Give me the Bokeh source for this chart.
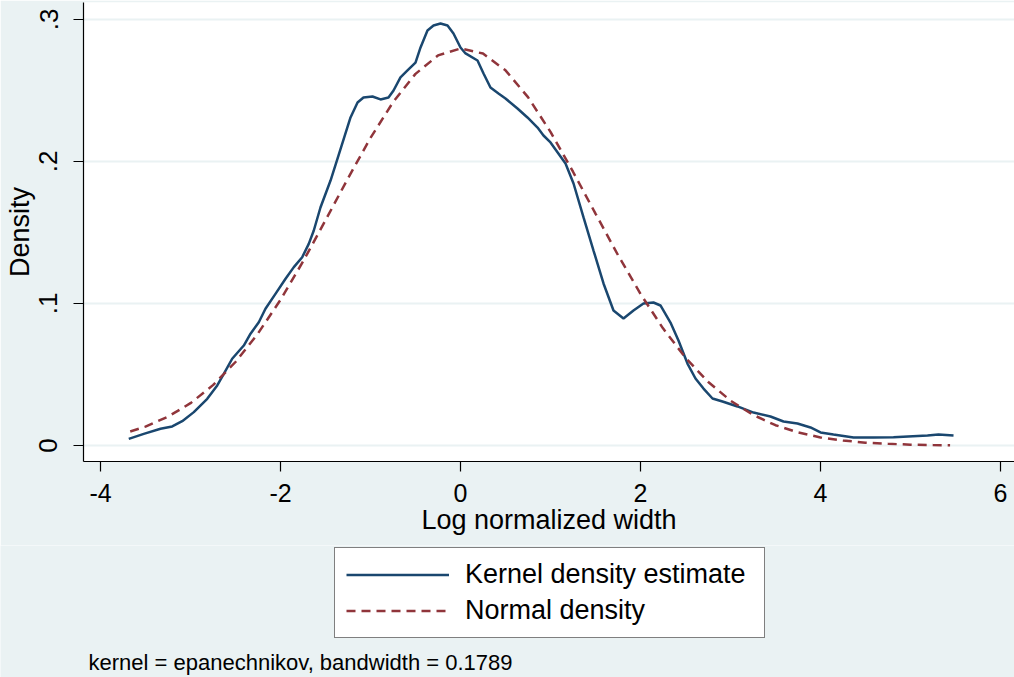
from bokeh.plotting import figure
from bokeh.models import Range1d, FixedTicker, Legend, LegendItem
from bokeh.layouts import column
from bokeh.core.properties import value
from bokeh.embed import file_html
from bokeh.resources import INLINE

# Kernel density estimate
kde_x = [-3.686, -3.519, -3.333, -3.203, -3.092, -2.963, -2.814, -2.703, -2.630, -2.537,
         -2.408, -2.333, -2.241, -2.167, -2.056, -1.944, -1.852, -1.759, -1.686, -1.630,
         -1.556, -1.444, -1.356, -1.222, -1.144, -1.078, -0.978, -0.889, -0.800, -0.744,
         -0.667, -0.589, -0.500, -0.444, -0.367, -0.300, -0.222, -0.144, -0.078, 0.000,
         0.056, 0.189, 0.256, 0.333, 0.422, 0.500, 0.633, 0.744, 0.856, 0.922,
         1.000, 1.167, 1.256, 1.367, 1.478, 1.589, 1.700, 1.811, 1.922, 2.033,
         2.144, 2.222, 2.333, 2.422, 2.522, 2.611, 2.700, 2.800, 2.911, 3.078,
         3.256, 3.444, 3.589, 3.744, 3.889, 4.000, 4.144, 4.367, 4.589, 4.811,
         5.189, 5.311, 5.478]
kde_y = [0.0047, 0.0082, 0.0118, 0.0134, 0.0171, 0.0235, 0.0329, 0.0423, 0.0505, 0.0611,
         0.0704, 0.0787, 0.0868, 0.0963, 0.1068, 0.1174, 0.1256, 0.1326, 0.1420, 0.1514,
         0.1676, 0.1866, 0.2042, 0.2310, 0.2415, 0.2451, 0.2458, 0.2437, 0.2451, 0.2500,
         0.2592, 0.2641, 0.2697, 0.2803, 0.2923, 0.2958, 0.2972, 0.2958, 0.2901, 0.2803,
         0.2761, 0.2711, 0.2620, 0.2521, 0.2479, 0.2444, 0.2373, 0.2310, 0.2239, 0.2183,
         0.2134, 0.1986, 0.1845, 0.1606, 0.1373, 0.1141, 0.0951, 0.0894, 0.0951, 0.1000,
         0.1007, 0.0986, 0.0866, 0.0739, 0.0577, 0.0472, 0.0401, 0.0331, 0.0310, 0.0275,
         0.0232, 0.0204, 0.0169, 0.0155, 0.0127, 0.0092, 0.0077, 0.0056, 0.0056, 0.0058,
         0.0070, 0.0077, 0.0070]

# Normal density
norm_x = [-3.67, -3.5, -3.25, -3.0, -2.75, -2.5, -2.25, -2.0, -1.75, -1.5,
          -1.25, -1.0, -0.75, -0.5, -0.25, 0.0, 0.25, 0.5, 0.75, 1.0,
          1.25, 1.5, 1.75, 2.0, 2.25, 2.5, 2.75, 3.0, 3.25, 3.5,
          3.75, 4.0, 4.25, 4.5, 4.75, 5.0, 5.25, 5.44]
norm_y = [0.0099, 0.0133, 0.0203, 0.0298, 0.0425, 0.0588, 0.0789, 0.1026, 0.1295, 0.1586,
          0.1882, 0.2166, 0.2417, 0.2617, 0.2747, 0.2796, 0.2760, 0.2642, 0.2453, 0.2209,
          0.1928, 0.1633, 0.1341, 0.1068, 0.0825, 0.0618, 0.0449, 0.0316, 0.0216, 0.0143,
          0.0092, 0.0057, 0.0035, 0.0020, 0.0012, 0.0006, 0.0003, 0.0002]

x_ticks = [-4, -2, 0, 2, 4, 6]
x_tick_labels = ["-4", "-2", "0", "2", "4", "6"]
y_ticks = [0, 0.1, 0.2, 0.3]
y_tick_labels = ["0", ".1", ".2", ".3"]

series_names = ["Kernel density estimate", "Normal density"]
x_title = "Log normalized width"
y_title = "Density"
note = "kernel = epanechnikov, bandwidth = 0.1789"

FONT = "Liberation Sans"
BG = "#eaf2f3"
BLUE = "#1a476f"
RED = "#90353b"

W = 1014
H1 = 545
H2 = 132

p = figure(width=W, height=H1, output_backend="svg", toolbar_location=None,
           x_range=Range1d(-4.1889, 6.1556), y_range=Range1d(-0.011268, 0.31197),
           min_border_left=83, min_border_right=0, min_border_top=2,
           min_border_bottom=H1 - 461)
p.frame_align = False
p.background_fill_color = "white"
p.border_fill_color = BG
p.outline_line_color = None

p.line(kde_x, kde_y, line_color=BLUE, line_width=2.5)
p.line(norm_x, norm_y, line_color=RED, line_width=2.5, line_dash="9 6")

p.xgrid.visible = False
p.ygrid.grid_line_color = BG
p.ygrid.grid_line_width = 2

xa = p.xaxis[0]
xa.ticker = FixedTicker(ticks=x_ticks)
xa.major_label_overrides = {t: l for t, l in zip(x_ticks, x_tick_labels)}
xa.axis_label = x_title
ya = p.yaxis[0]
ya.ticker = FixedTicker(ticks=y_ticks)
ya.major_label_overrides = {t: l for t, l in zip(y_ticks, y_tick_labels)}
ya.axis_label = y_title
ya.major_label_orientation = "vertical"

for ax in (xa, ya):
    ax.axis_line_color = "black"
    ax.axis_line_width = 1.2
    ax.major_tick_line_color = "black"
    ax.major_tick_line_width = 1.2
    ax.major_tick_in = 0
    ax.major_tick_out = 10
    ax.minor_tick_line_color = None
    ax.major_label_text_font = FONT
    ax.major_label_text_color = "black"
    ax.axis_label_text_font = FONT
    ax.axis_label_text_font_style = "normal"
    ax.axis_label_text_color = "black"
    ax.axis_label_text_font_size = "27px"

xa.major_label_text_font_size = "25px"
xa.major_label_standoff = 12
xa.axis_label_standoff = 0
ya.major_label_text_font_size = "26px"
ya.major_label_standoff = 16
ya.axis_label_standoff = 2

# Lower panel: legend and note
p2 = figure(width=W, height=H2, output_backend="svg", toolbar_location=None,
            x_range=Range1d(0, W), y_range=Range1d(0, H2),
            x_axis_location=None, y_axis_location=None,
            min_border=0, min_border_left=0, min_border_right=0,
            min_border_top=0, min_border_bottom=0)
p2.frame_align = False
p2.background_fill_color = BG
p2.border_fill_color = BG
p2.outline_line_color = None
p2.xgrid.visible = False
p2.ygrid.visible = False

# legend keys: same series, drawn on an off-screen range so only the keys show
p2.extra_y_ranges = {"off": Range1d(10, 11)}
k1 = p2.line(kde_x, kde_y, line_color=BLUE, line_width=2.5, y_range_name="off")
k2 = p2.line(norm_x, norm_y, line_color=RED, line_width=2.5, line_dash="9 6",
             y_range_name="off")

legend = Legend(items=[LegendItem(label=series_names[0], renderers=[k1]),
                       LegendItem(label=series_names[1], renderers=[k2])],
                location=(334, 39), orientation="vertical",
                border_line_color="black", border_line_width=1.2,
                background_fill_color="white", background_fill_alpha=1.0,
                label_text_font=FONT, label_text_font_size="27px", label_text_color="black",
                glyph_width=103, glyph_height=29, label_height=29, label_width=288,
                label_standoff=16, padding=11, spacing=5, margin=0)
p2.add_layout(legend, "center")

p2.text(x=[88], y=[15], text=[note], text_font=value(FONT), text_font_size="22px",
        text_color="black", text_align="left", text_baseline="middle")

layout = column(p, p2, spacing=0)
open("out.html", "w").write(file_html(layout, INLINE))
